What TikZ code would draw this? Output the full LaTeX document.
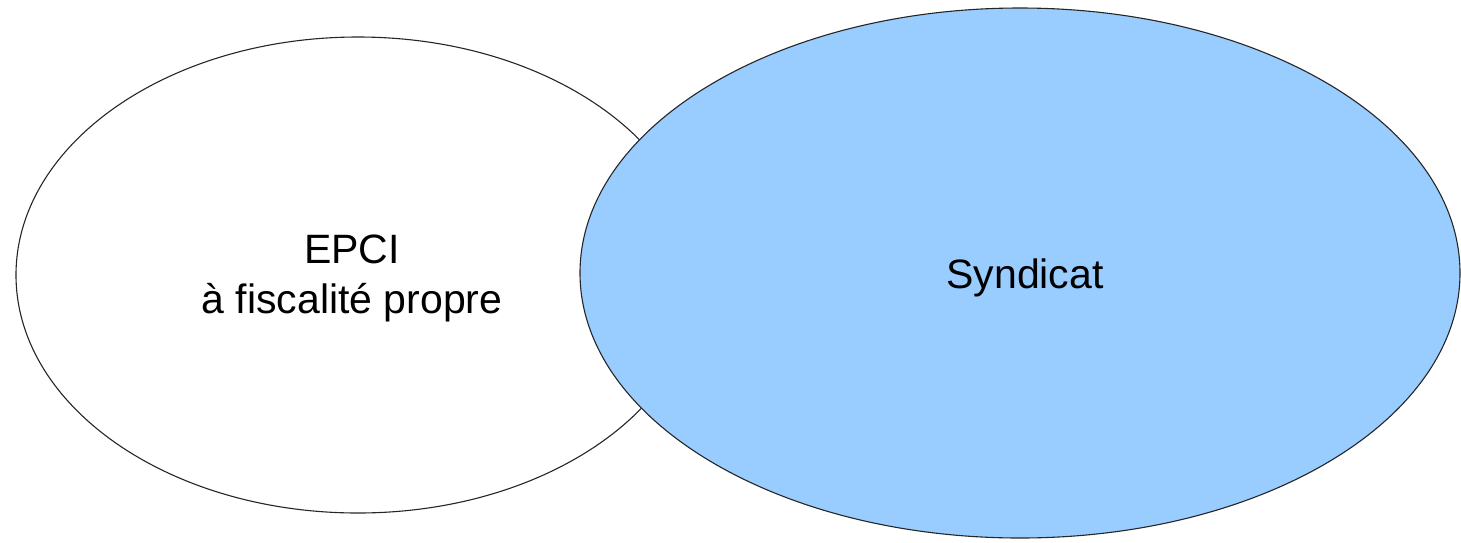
\documentclass[tikz,border=0pt]{standalone}
\usepackage{fontspec}
\setmainfont{Liberation Sans}
\usetikzlibrary{shapes.geometric}
\definecolor{synblue}{HTML}{99CCFF}
\begin{document}
\begin{tikzpicture}[x=1pt,y=-1pt,
  setshape/.style={ellipse,draw=black!85,line width=1.1pt,inner sep=0pt},
  lbl/.style={font=\fontsize{41}{50}\selectfont,align=center}]
\useasboundingbox (0,0) rectangle (1461,542);
\node[setshape,fill=white,minimum width=684pt,minimum height=476pt] (epci) at (358,275) {};
\node[setshape,fill=synblue,minimum width=880pt,minimum height=530pt] (synd) at (1020,273) {};
\node[lbl,anchor=base] (epcitxt) at (352,313) {EPCI\\à fiscalité propre};
\node[lbl,anchor=base] (synttxt) at (1025,288) {Syndicat};
\end{tikzpicture}
\end{document}
